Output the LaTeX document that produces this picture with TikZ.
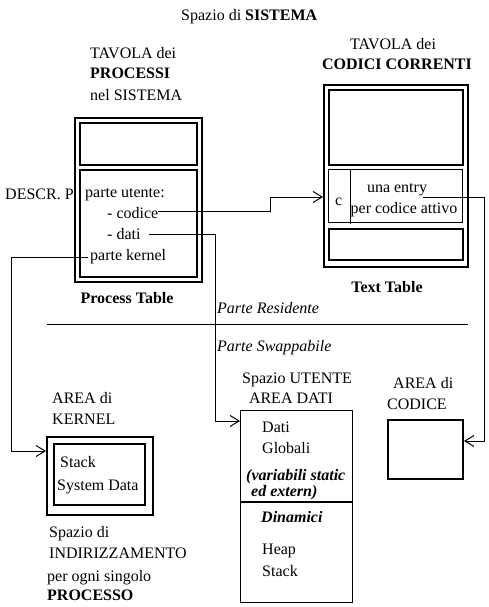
\documentclass[tikz,border=0pt]{standalone}
\usepackage{fontspec}
\setmainfont{Liberation Serif}
\usetikzlibrary{arrows.meta}
\begin{document}
\begin{tikzpicture}[x=1pt,y=-1pt,
  font=\fontsize{16}{19}\selectfont,
  txt/.style={anchor=base west, inner sep=0pt},
  ctxt/.style={anchor=base, inner sep=0pt},
  boxn/.style={draw, anchor=north west, inner sep=0pt, line width=2pt},
  thinboxn/.style={draw, anchor=north west, inner sep=0pt, line width=1pt},
  conn/.style={line width=1pt},
  arr/.style={conn, -{Straight Barb[length=9pt,width=11pt,line width=1pt]}}]
\useasboundingbox (0,0) rectangle (489,607);

% title
\node[txt] (title) at (181,21) {Spazio di \textbf{SISTEMA}};

% process table
\node[txt] (pt1) at (90,59) {TAVOLA dei};
\node[txt] (pt2) at (90,79) {\textbf{PROCESSI}};
\node[txt] (pt3) at (90,101) {nel SISTEMA};
\node[boxn, minimum width=127pt, minimum height=164pt] (ptout) at (74,117) {};
\node[boxn, minimum width=117pt, minimum height=42pt] (pttop) at (79,122) {};
\node[boxn, minimum width=117pt, minimum height=107pt] (ptbot) at (79,169) {};
\node[txt] (descr) at (5,199) {DESCR. P};
\node[txt] (putente) at (85,197) {parte utente:};
\node[txt] (codice) at (107,218) {- codice};
\node[txt] (dati) at (107,239) {- dati};
\node[txt] (pkernel) at (90,260) {parte kernel};
\node[ctxt] (ptlab) at (127,303) {\textbf{Process Table}};

% text table
\node[ctxt] (tt1) at (393,50) {TAVOLA dei};
\node[ctxt] (tt2) at (397,70) {\textbf{CODICI CORRENTI}};
\node[boxn, minimum width=144pt, minimum height=182pt] (ttout) at (323,84) {};
\node[boxn, minimum width=134pt, minimum height=75pt] (tttop) at (328,89) {};
\node[thinboxn, minimum width=134pt, minimum height=53pt] (ttmid) at (328,169) {};
\node[boxn, minimum width=134pt, minimum height=31pt] (ttbot) at (328,228) {};
\draw[conn] (350,169) -- (350,224);
\node[txt] (cc) at (335,205) {c};
\node[ctxt] (entry1) at (397,192) {una entry};
\node[ctxt] (entry2) at (404,213) {per codice attivo};
\node[ctxt] (ttlab) at (387,292) {\textbf{Text Table}};

% separator
\coordinate (sepL) at (47,324);
\coordinate (sepR) at (468,324);
\draw[conn] (sepL) -- (sepR);
\node[txt] (resid) at (217,313) {\textit{Parte Residente}};
\node[txt] (swap) at (217,351) {\textit{Parte Swappabile}};

% kernel area
\node[txt] (ka1) at (52,403) {AREA di};
\node[txt] (ka2) at (52,424) {KERNEL};
\node[boxn, minimum width=106pt, minimum height=78pt] (kout) at (46,436) {};
\node[boxn, minimum width=91pt, minimum height=61pt] (kin) at (53,443) {};
\node[txt] (kstack) at (60,467) {Stack};
\node[txt] (ksys) at (57,490) {System Data};
\node[txt] (sp1) at (49,537) {Spazio di};
\node[txt] (sp2) at (49,558) {INDIRIZZAMENTO};
\node[txt] (sp3) at (47,581) {per ogni singolo};
\node[txt] (sp4) at (47,600) {\textbf{PROCESSO}};

% user data area
\node[ctxt] (ua1) at (297,383) {Spazio UTENTE};
\node[ctxt] (ua2) at (291,403) {AREA DATI};
\node[draw, line width=1.3pt, anchor=north west, inner sep=0pt, minimum width=112pt, minimum height=192pt] (datibox) at (240,410) {};
\draw[line width=1.3pt] (240,502) -- (352,502);
\node[txt] (d1) at (262,432) {Dati};
\node[txt] (d2) at (262,453) {Globali};
\node[txt] (d3) at (246,480) {\textbf{\textit{(variabili static}}};
\node[txt] (d4) at (251,496) {\textbf{\textit{ed extern)}}};
\node[txt] (d5) at (261,522) {\textbf{\textit{Dinamici}}};
\node[txt] (d6) at (262,554) {Heap};
\node[txt] (d7) at (262,576) {Stack};

% code area
\node[txt] (ca1) at (393,388) {AREA di};
\node[txt] (ca2) at (387,409) {CODICE};
\node[boxn, minimum width=75pt, minimum height=59pt] (codebox) at (387,419) {};

% connectors
\coordinate (b1) at (270,211);
\coordinate (b2) at (270,197);
\draw[arr] (codice.east |- b1) -- (b1) -- (b2) -- (ttout.west |- b2);

\coordinate (b3) at (215,234);
\coordinate (b4) at (215,421);
\draw[arr] ([xshift=8pt]dati.east |- b3) -- (b3) -- (b4) -- (datibox.west |- b4);

\coordinate (b5) at (11,257);
\coordinate (b6) at (11,451);
\draw[arr] ([xshift=-2pt]pkernel.west |- b5) -- (b5) -- (b6) -- (kout.west |- b6);

\coordinate (b7) at (484,197);
\coordinate (b8) at (484,441);
\draw[arr] ([xshift=-4pt]entry1.east |- b7) -- (b7) -- (b8) -- (codebox.east |- b8);
\end{tikzpicture}
\end{document}
